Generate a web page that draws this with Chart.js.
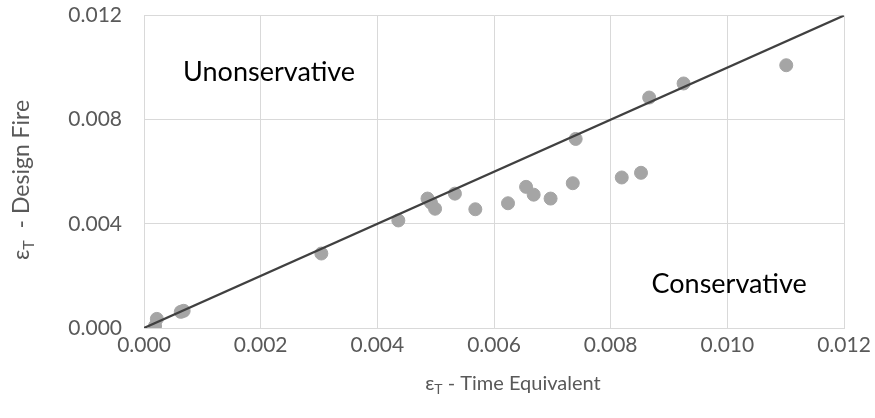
<!DOCTYPE html>
<html>
<head>
<meta charset="utf-8">
<script src="https://cdn.jsdelivr.net/npm/chart.js@4.4.1/dist/chart.umd.min.js"></script>
<style>
  body { margin: 0; background: #fff; }
</style>
</head>
<body>
<canvas id="myChart" width="875" height="418"></canvas>
<script>
// strain pairs
const timeEquivalent = [0.00019, 0.00022, 0.00063, 0.00068, 0.00304, 0.00436, 0.00486, 0.00492, 0.00499, 0.00533,
    0.00568, 0.00624, 0.00655, 0.00668, 0.00697, 0.00735, 0.00740, 0.00819, 0.00852, 0.00866, 0.00925, 0.01101];
const designFire = [0.00008, 0.00035, 0.00062, 0.00066, 0.00286, 0.00413, 0.00497, 0.00481, 0.00458, 0.00516,
    0.00456, 0.00479, 0.00542, 0.00512, 0.00497, 0.00556, 0.00726, 0.00578, 0.00596, 0.00885, 0.00939, 0.01009];
// 1:1 line
const equalityX = [0, 0.012];
const equalityY = [0, 0.012];

const textColor = '#595959';
const font = 'Lato';

const ctx = document.getElementById('myChart');

const notes = {
    id: 'notes',
    afterDraw(chart) {
        const { ctx, scales: { x, y }, chartArea } = chart;
        ctx.save();
        ctx.fillStyle = '#000';
        ctx.font = '27px ' + font;
        ctx.textBaseline = 'middle';
        ctx.textAlign = 'left';
        ctx.fillText('Unonservative', x.getPixelForValue(0.00067), y.getPixelForValue(0.0098));
        ctx.fillText('Conservative', x.getPixelForValue(0.0087), y.getPixelForValue(0.00166));

        // axis titles with subscript T
        const drawTitle = (parts, size, cx, cy, rotate) => {
            ctx.save();
            ctx.translate(cx, cy);
            if (rotate) ctx.rotate(-Math.PI / 2);
            ctx.fillStyle = textColor;
            ctx.textAlign = 'left';
            ctx.textBaseline = 'alphabetic';
            const sub = Math.round(size * 0.68);
            let w = 0;
            parts.forEach(p => {
                ctx.font = (p.sub ? sub : size) + 'px ' + font;
                w += ctx.measureText(p.t).width;
            });
            let px = -w / 2;
            parts.forEach(p => {
                ctx.font = (p.sub ? sub : size) + 'px ' + font;
                ctx.fillText(p.t, px, p.sub ? size * 0.55 : size * 0.36);
                px += ctx.measureText(p.t).width;
            });
            ctx.restore();
        };
        drawTitle([{ t: 'ε' }, { t: 'T', sub: true }, { t: ' - Time Equivalent' }], 20, 513, 383, false);
        drawTitle([{ t: 'ε' }, { t: 'T', sub: true }, { t: '  - Design Fire' }], 23, 21, 180, true);
        ctx.restore();
    }
};

const myChart = new Chart(ctx, {
    type: 'scatter',
    data: {
        datasets: [
            {
                label: 'Design fire vs time equivalent',
                data: timeEquivalent.map((v, i) => ({ x: v, y: designFire[i] })),
                backgroundColor: '#a5a5a5',
                borderColor: '#a5a5a5',
                pointRadius: 6.5,
                pointHoverRadius: 6.5,
                order: 2,
            },
            {
                label: '1:1',
                data: equalityX.map((v, i) => ({ x: v, y: equalityY[i] })),
                showLine: true,
                borderColor: '#404040',
                borderWidth: 2.25,
                pointRadius: 0,
                order: 1,
            },
        ]
    },
    options: {
        responsive: false,
        animation: false,
        layout: {
            padding: { top: 15.5, right: 31, left: 0, bottom: 0 },
        },
        plugins: {
            legend: { display: false },
            title: { display: false },
            tooltip: { enabled: false },
        },
        scales: {
            x: {
                type: 'linear',
                min: 0,
                max: 0.012,
                afterFit: (scale) => { scale.height = 90; },
                ticks: {
                    stepSize: 0.002,
                    color: textColor,
                    font: { family: font, size: 21 },
                    padding: 0,
                    callback: (v) => v.toFixed(3),
                },
                grid: { color: '#d9d9d9', lineWidth: 1, tickLength: 5, tickColor: 'rgba(0,0,0,0)' },
                border: { color: '#d9d9d9' },
            },
            y: {
                type: 'linear',
                min: 0,
                max: 0.012,
                afterFit: (scale) => { scale.width = 144; },
                ticks: {
                    stepSize: 0.004,
                    color: textColor,
                    font: { family: font, size: 21 },
                    padding: 0,
                    callback: (v) => v.toFixed(3),
                },
                grid: { color: '#d9d9d9', lineWidth: 1, tickLength: 22, tickColor: 'rgba(0,0,0,0)' },
                border: { color: '#d9d9d9' },
            }
        }
    },
    plugins: [notes],
});
</script>
</body>
</html>
